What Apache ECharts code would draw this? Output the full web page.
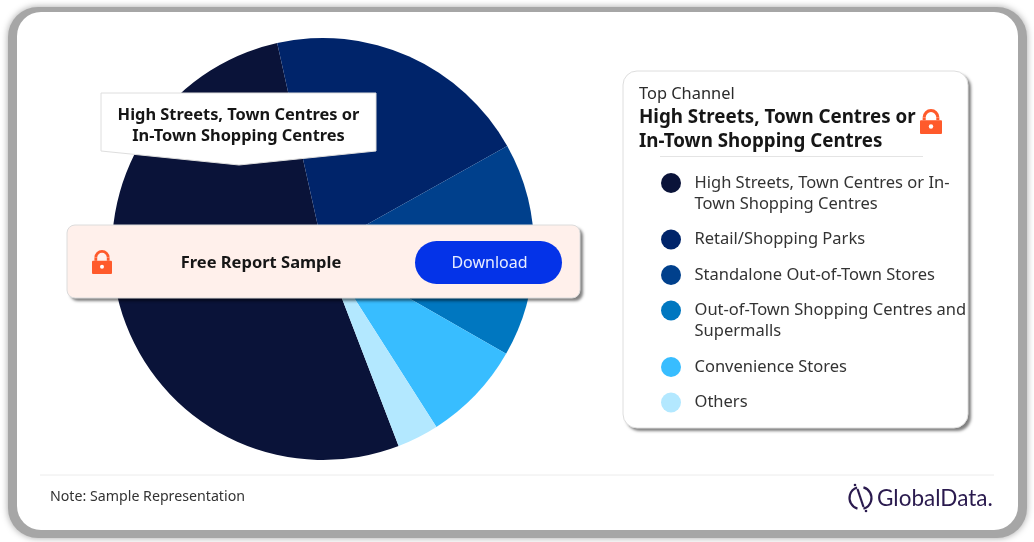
<!DOCTYPE html>
<html>
<head>
<meta charset="utf-8">
<style>html,body{margin:0;padding:0;background:#fff;overflow:hidden}#c{width:1034px;height:542px}</style>
<script src="https://cdn.jsdelivr.net/npm/echarts@6/dist/echarts.min.js"></script>
</head>
<body>
<div id="c"></div>
<script>
const categories = [
  "High Streets, Town Centres or In-Town Shopping Centres",
  "Retail/Shopping Parks",
  "Standalone Out-of-Town Stores",
  "Out-of-Town Shopping Centres and Supermalls",
  "Convenience Stores",
  "Others"
];
const legendLines = [
  ["High Streets, Town Centres or In-", "Town Shopping Centres"],
  ["Retail/Shopping Parks"],
  ["Standalone Out-of-Town Stores"],
  ["Out-of-Town Shopping Centres and", "Supermalls"],
  ["Convenience Stores"],
  ["Others"]
];
const values = [52.4, 20.4, 8.4, 8.0, 7.7, 3.2];
const colors = ["#0a1339", "#00246a", "#00408c", "#0077c0", "#38bdff", "#b3e8ff"];
const calloutLines = ["High Streets, Town Centres or", "In-Town Shopping Centres"];
const topLabel = "Top Channel";
const bannerText = "Free Report Sample";
const buttonText = "Download";
const noteText = "Note: Sample Representation";
const brandText = "GlobalData.";

const FONT = '"Noto Sans", sans-serif';
const txt = (x, y, text, size, opt = {}) => ({
  type: 'text', x, y, z: opt.z ?? 20, silent: true,
  style: {
    text, fontFamily: opt.font || FONT, fontSize: size, fontWeight: opt.weight || 400,
    fill: opt.fill || '#2b2b2b', align: opt.align || 'left', verticalAlign: 'middle'
  }
});
const lock = (x, y, w, h, z) => {
  const c = '#ff5a2b', lw = w * 0.14, r = w * 0.31, cx = x + w / 2, top = y + lw / 2 + r, body = y + h * 0.45;
  return [
    { type: 'arc', z, silent: true, shape: { cx, cy: top, r, startAngle: Math.PI, endAngle: 0, clockwise: true }, style: { stroke: c, fill: 'none', lineWidth: lw } },
    { type: 'line', z, silent: true, shape: { x1: cx - r, y1: top, x2: cx - r, y2: body }, style: { stroke: c, lineWidth: lw } },
    { type: 'line', z, silent: true, shape: { x1: cx + r, y1: top, x2: cx + r, y2: body }, style: { stroke: c, lineWidth: lw } },
    { type: 'rect', z, silent: true, shape: { x, y: body, width: w, height: y + h - body, r: 1 }, style: { fill: c } },
    { type: 'circle', z: z + 1, silent: true, shape: { cx, cy: y + h * 0.7, r: w * 0.1 }, style: { fill: '#fff' } }
  ];
};
const panel = (shape, fill, stroke, z) => ([
  { type: 'rect', z, silent: true, shape, style: { fill, shadowBlur: 3, shadowOffsetX: 3, shadowOffsetY: 3, shadowColor: 'rgba(0,0,0,.5)' } },
  { type: 'rect', z, silent: true, shape, style: { fill: 'none', stroke, lineWidth: 1 } }
]);

const elems = [];
// outer frame
elems.push({ type: 'rect', z: 0, silent: true, shape: { x: 8, y: 7, width: 1019, height: 531, r: 30 },
  style: { fill: '#a6a6a6', shadowBlur: 7, shadowColor: '#a6a6a6' } });
elems.push({ type: 'rect', z: 1, silent: true, shape: { x: 17, y: 12, width: 1001, height: 518, r: 24 }, style: { fill: '#fff' } });

// callout
elems.push({ type: 'polygon', z: 10, silent: true,
  shape: { points: [[101, 93], [376, 93], [376, 151], [239, 165], [101, 151]] },
  style: { fill: '#fff', stroke: '#dedede', lineWidth: 1 } });
calloutLines.forEach((l, i) => elems.push(txt(238.5, 115.5 + i * 21, l, 16.4, { weight: 700, align: 'center', fill: '#161616' })));

// banner
elems.push(...panel({ x: 67, y: 225, width: 513, height: 73, r: 8 }, '#fff0eb', '#dcdcdc', 10));
elems.push(...lock(92, 250, 20, 24, 11));
elems.push(txt(261, 263, bannerText, 16.5, { weight: 700, align: 'center', fill: '#161616', z: 11 }));
elems.push({ type: 'rect', z: 11, silent: true, shape: { x: 415, y: 241, width: 147, height: 43, r: 21.5 }, style: { fill: '#0433e8' } });
elems.push(txt(489.5, 263, buttonText, 16, { align: 'center', fill: '#e8edff', z: 12 }));

// info card
elems.push(...panel({ x: 623, y: 71, width: 345, height: 357, r: 14 }, '#fff', '#dedede', 5));
elems.push(txt(639, 94.5, topLabel, 16.4, { z: 6 }));
calloutLines.forEach((l, i) => elems.push(txt(639, 118 + i * 24, l, 18.75, { weight: 700, fill: '#161616', z: 6 })));
elems.push(...lock(920, 109, 22, 25, 6));
elems.push({ type: 'line', z: 6, silent: true, shape: { x1: 660, y1: 156.5, x2: 923, y2: 156.5 }, style: { stroke: '#e4e4e4', lineWidth: 1 } });

// legend
let ly = 183;
legendLines.forEach((lines, i) => {
  elems.push({ type: 'circle', z: 6, silent: true, shape: { cx: 671, cy: ly, r: 10 }, style: { fill: colors[i] } });
  lines.forEach((l, j) => elems.push(txt(694.5, ly + j * 21, l, 16.5, { z: 6, fill: '#333' })));
  ly += lines.length * 21 + 14.5;
});

// footer
elems.push({ type: 'line', z: 3, silent: true, shape: { x1: 40, y1: 475, x2: 994, y2: 475 }, style: { stroke: '#ececec', lineWidth: 1 } });
elems.push(txt(50, 497, noteText, 14.2, { z: 3, fill: '#333' }));
const brand = '#2a1a4e';
elems.push({ type: 'arc', z: 3, silent: true, shape: { cx: 860.5, cy: 498, r: 11, startAngle: -1.3, endAngle: 1.3, clockwise: true }, style: { stroke: brand, fill: 'none', lineWidth: 2.2 } });
elems.push({ type: 'arc', z: 3, silent: true, shape: { cx: 860.5, cy: 498, r: 11, startAngle: 1.85, endAngle: 4.4, clockwise: true }, style: { stroke: brand, fill: 'none', lineWidth: 2.2 } });
elems.push({ type: 'line', z: 3, silent: true, shape: { x1: 857.5, y1: 489, x2: 863.5, y2: 507 }, style: { stroke: brand, lineWidth: 2.2 } });
elems.push({ type: 'circle', z: 3, silent: true, shape: { cx: 855, cy: 485, r: 1.3 }, style: { fill: brand } });
elems.push({ type: 'circle', z: 3, silent: true, shape: { cx: 866, cy: 511, r: 1.3 }, style: { fill: brand } });
elems.push(txt(877, 498.5, brandText, 22.5, { z: 3, fill: brand, font: '"Lato", sans-serif' }));

const chart = echarts.init(document.getElementById('c'), null, { renderer: 'canvas', width: 1034, height: 542 });
chart.setOption({
  animation: false,
  backgroundColor: '#fff',
  graphic: { elements: elems },
  series: [{
    type: 'pie',
    z: 2,
    silent: true,
    center: [323, 249],
    radius: [0, 211],
    startAngle: -69,
    label: { show: false },
    labelLine: { show: false },
    emphasis: { disabled: true },
    itemStyle: { borderWidth: 0 },
    data: categories.map((name, i) => ({ name, value: values[i], itemStyle: { color: colors[i] } }))
  }]
});
</script>
</body>
</html>
